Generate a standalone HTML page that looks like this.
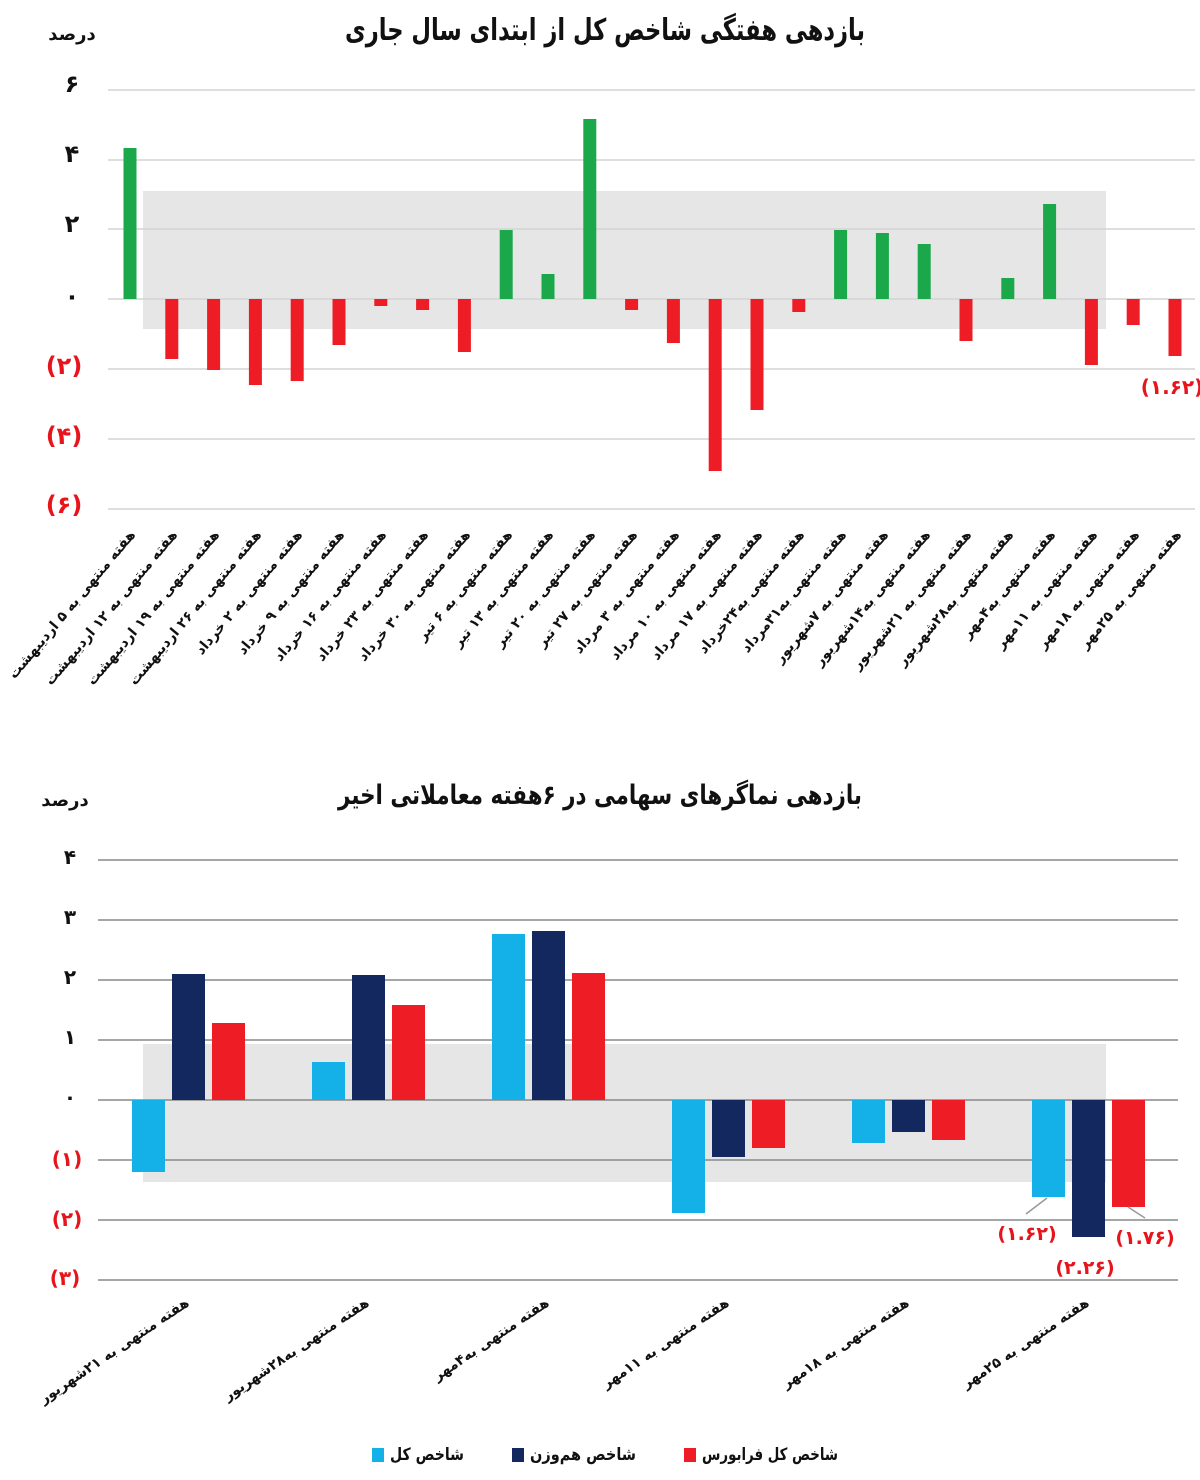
<!DOCTYPE html>
<html><head><meta charset="utf-8"><style>
html,body{margin:0;padding:0;background:#fff}
svg{display:block;font-family:"DejaVu Sans","Noto Sans CJK SC",sans-serif;font-weight:bold}
</style></head><body>
<svg width="1200" height="1480" viewBox="0 0 1200 1480" xmlns="http://www.w3.org/2000/svg">
<!-- Chart 1 -->
<text x="605" y="40" font-size="30" text-anchor="middle" direction="rtl" fill="#111" textLength="520" lengthAdjust="spacingAndGlyphs">بازدهی هفتگی شاخص کل از ابتدای سال جاری</text>
<text x="72" y="40" font-size="18" text-anchor="middle" fill="#111">درصد</text>
<rect x="143" y="191" width="963" height="138" fill="#e6e6e6"/>
<g stroke="#d4d4d4" stroke-width="1.5">
<line x1="108" y1="90" x2="1195" y2="90"/><line x1="108" y1="160" x2="1195" y2="160"/>
<line x1="108" y1="229" x2="1195" y2="229"/><line x1="108" y1="299" x2="1195" y2="299"/>
<line x1="108" y1="369" x2="1195" y2="369"/><line x1="108" y1="439" x2="1195" y2="439"/>
<line x1="108" y1="509" x2="1195" y2="509"/>
</g>
<g font-size="24" text-anchor="middle">
<text x="72" y="92" fill="#111">۶</text><text x="72" y="162" fill="#111">۴</text>
<text x="72" y="232" fill="#111">۲</text><text x="72" y="304" fill="#111">۰</text>
<text x="64" y="374" fill="#e8141c">(۲)</text><text x="64" y="444" fill="#e8141c">(۴)</text>
<text x="64" y="513" fill="#e8141c">(۶)</text>
</g>
<g fill="#1aa84a">
<rect x="123.5" y="148" width="13" height="151"/>
<rect x="499.7" y="230" width="13" height="69"/>
<rect x="541.5" y="274" width="13" height="25"/>
<rect x="583.3" y="119" width="13" height="180"/>
<rect x="834.1" y="230" width="13" height="69"/>
<rect x="875.9" y="233" width="13" height="66"/>
<rect x="917.7" y="244" width="13" height="55"/>
<rect x="1001.3" y="278" width="13" height="21"/>
<rect x="1043.1" y="204" width="13" height="95"/>
</g>
<g fill="#ee1c25">
<rect x="165.3" y="299" width="13" height="60"/>
<rect x="207.1" y="299" width="13" height="71"/>
<rect x="248.9" y="299" width="13" height="86"/>
<rect x="290.7" y="299" width="13" height="82"/>
<rect x="332.5" y="299" width="13" height="46"/>
<rect x="374.3" y="299" width="13" height="7"/>
<rect x="416.1" y="299" width="13" height="11"/>
<rect x="457.9" y="299" width="13" height="53"/>
<rect x="625.1" y="299" width="13" height="11"/>
<rect x="666.9" y="299" width="13" height="44"/>
<rect x="708.7" y="299" width="13" height="172"/>
<rect x="750.5" y="299" width="13" height="111"/>
<rect x="792.3" y="299" width="13" height="13"/>
<rect x="959.5" y="299" width="13" height="42"/>
<rect x="1084.9" y="299" width="13" height="66"/>
<rect x="1126.7" y="299" width="13" height="26"/>
<rect x="1168.5" y="299" width="13" height="57"/>
</g>
<text x="1172" y="394" font-size="20" text-anchor="middle" fill="#e8141c">(۱.۶۲)</text>
<g font-size="14" fill="#111" direction="rtl" text-anchor="start">
<text transform="translate(136,535) rotate(-50)">هفته منتهی به ۵ اردیبهشت</text>
<text transform="translate(178,535) rotate(-50)">هفته منتهی به ۱۲ اردیبهشت</text>
<text transform="translate(220,535) rotate(-50)">هفته منتهی به ۱۹ اردیبهشت</text>
<text transform="translate(262,535) rotate(-50)">هفته منتهی به ۲۶ اردیبهشت</text>
<text transform="translate(303,535) rotate(-50)">هفته منتهی به ۲ خرداد</text>
<text transform="translate(345,535) rotate(-50)">هفته منتهی به ۹ خرداد</text>
<text transform="translate(387,535) rotate(-50)">هفته منتهی به ۱۶ خرداد</text>
<text transform="translate(429,535) rotate(-50)">هفته منتهی به ۲۳ خرداد</text>
<text transform="translate(471,535) rotate(-50)">هفته منتهی به ۳۰ خرداد</text>
<text transform="translate(513,535) rotate(-50)">هفته منتهی به ۶ تیر</text>
<text transform="translate(554,535) rotate(-50)">هفته منتهی به ۱۳ تیر</text>
<text transform="translate(596,535) rotate(-50)">هفته منتهی به ۲۰ تیر</text>
<text transform="translate(638,535) rotate(-50)">هفته منتهی به ۲۷ تیر</text>
<text transform="translate(680,535) rotate(-50)">هفته منتهی به ۳ مرداد</text>
<text transform="translate(722,535) rotate(-50)">هفته منتهی به ۱۰ مرداد</text>
<text transform="translate(763,535) rotate(-50)">هفته منتهی به ۱۷ مرداد</text>
<text transform="translate(805,535) rotate(-50)">هفته منتهی به۲۴خرداد</text>
<text transform="translate(847,535) rotate(-50)">هفته منتهی به۳۱مرداد</text>
<text transform="translate(889,535) rotate(-50)">هفته منتهی به ۷شهریور</text>
<text transform="translate(931,535) rotate(-50)">هفته منتهی به۱۴شهریور</text>
<text transform="translate(972,535) rotate(-50)">هفته منتهی به ۲۱شهریور</text>
<text transform="translate(1014,535) rotate(-50)">هفته منتهی به۲۸شهریور</text>
<text transform="translate(1056,535) rotate(-50)">هفته منتهی به۴مهر</text>
<text transform="translate(1098,535) rotate(-50)">هفته منتهی به ۱۱مهر</text>
<text transform="translate(1140,535) rotate(-50)">هفته منتهی به ۱۸مهر</text>
<text transform="translate(1182,535) rotate(-50)">هفته منتهی به ۲۵مهر</text>
</g>

<!-- Chart 2 -->
<text x="600" y="804" font-size="27" text-anchor="middle" direction="rtl" fill="#111" textLength="524" lengthAdjust="spacingAndGlyphs">بازدهی نماگرهای سهامی در ۶هفته معاملاتی اخیر</text>
<text x="65" y="806" font-size="18" text-anchor="middle" fill="#111">درصد</text>
<rect x="143" y="1044" width="963" height="138" fill="#e6e6e6"/>
<g stroke="#888" stroke-width="1.5">
<line x1="98" y1="860" x2="1178" y2="860"/><line x1="98" y1="920" x2="1178" y2="920"/>
<line x1="98" y1="980" x2="1178" y2="980"/><line x1="98" y1="1040" x2="1178" y2="1040"/>
<line x1="98" y1="1100" x2="1178" y2="1100"/><line x1="98" y1="1160" x2="1178" y2="1160"/>
<line x1="98" y1="1220" x2="1178" y2="1220"/><line x1="98" y1="1280" x2="1178" y2="1280"/>
</g>
<g font-size="20" text-anchor="middle">
<text x="70" y="864" fill="#111">۴</text><text x="70" y="924" fill="#111">۳</text>
<text x="70" y="984" fill="#111">۲</text><text x="70" y="1044" fill="#111">۱</text>
<text x="70" y="1104" fill="#111">۰</text>
<text x="67" y="1166" fill="#e8141c">(۱)</text><text x="67" y="1226" fill="#e8141c">(۲)</text>
<text x="65" y="1285" fill="#e8141c">(۳)</text>
</g>
<g fill="#14b0e8">
<rect x="132" y="1100" width="33" height="72"/>
<rect x="312" y="1062" width="33" height="38"/>
<rect x="492" y="934" width="33" height="166"/>
<rect x="672" y="1100" width="33" height="113"/>
<rect x="852" y="1100" width="33" height="43"/>
<rect x="1032" y="1100" width="33" height="97"/>
</g>
<g fill="#13285f">
<rect x="172" y="974" width="33" height="126"/>
<rect x="352" y="975" width="33" height="125"/>
<rect x="532" y="931" width="33" height="169"/>
<rect x="712" y="1100" width="33" height="57"/>
<rect x="892" y="1100" width="33" height="32"/>
<rect x="1072" y="1100" width="33" height="137"/>
</g>
<g fill="#ee1c25">
<rect x="212" y="1023" width="33" height="77"/>
<rect x="392" y="1005" width="33" height="95"/>
<rect x="572" y="973" width="33" height="127"/>
<rect x="752" y="1100" width="33" height="48"/>
<rect x="932" y="1100" width="33" height="40"/>
<rect x="1112" y="1100" width="33" height="107"/>
</g>
<g stroke="#999" stroke-width="1.5">
<line x1="1047" y1="1198" x2="1026" y2="1214"/>
<line x1="1128" y1="1207" x2="1145" y2="1218"/>
</g>
<g font-size="19" text-anchor="middle" fill="#e8141c">
<text x="1027" y="1240">(۱.۶۲)</text>
<text x="1085" y="1274">(۲.۲۶)</text>
<text x="1145" y="1244">(۱.۷۶)</text>
</g>
<g font-size="14" fill="#111" direction="rtl" text-anchor="start">
<text transform="translate(190,1305) rotate(-34)">هفته منتهی به ۲۱شهریور</text>
<text transform="translate(370,1305) rotate(-34)">هفته منتهی به۲۸شهریور</text>
<text transform="translate(550,1305) rotate(-34)">هفته منتهی به۴مهر</text>
<text transform="translate(730,1305) rotate(-34)">هفته منتهی به ۱۱مهر</text>
<text transform="translate(910,1305) rotate(-34)">هفته منتهی به ۱۸مهر</text>
<text transform="translate(1090,1305) rotate(-34)">هفته منتهی به ۲۵مهر</text>
</g>
<!-- Legend -->
<rect x="372" y="1448" width="12" height="14" fill="#14b0e8"/>
<text x="464" y="1460" font-size="17" direction="rtl" text-anchor="start" fill="#111" textLength="74" lengthAdjust="spacingAndGlyphs">شاخص کل</text>
<rect x="512" y="1448" width="12" height="14" fill="#13285f"/>
<text x="636" y="1460" font-size="17" direction="rtl" text-anchor="start" fill="#111" textLength="106" lengthAdjust="spacingAndGlyphs">شاخص هم‌وزن</text>
<rect x="684" y="1448" width="12" height="14" fill="#ee1c25"/>
<text x="838" y="1460" font-size="17" direction="rtl" text-anchor="start" fill="#111" textLength="136" lengthAdjust="spacingAndGlyphs">شاخص کل فرابورس</text>
</svg>
</body></html>
